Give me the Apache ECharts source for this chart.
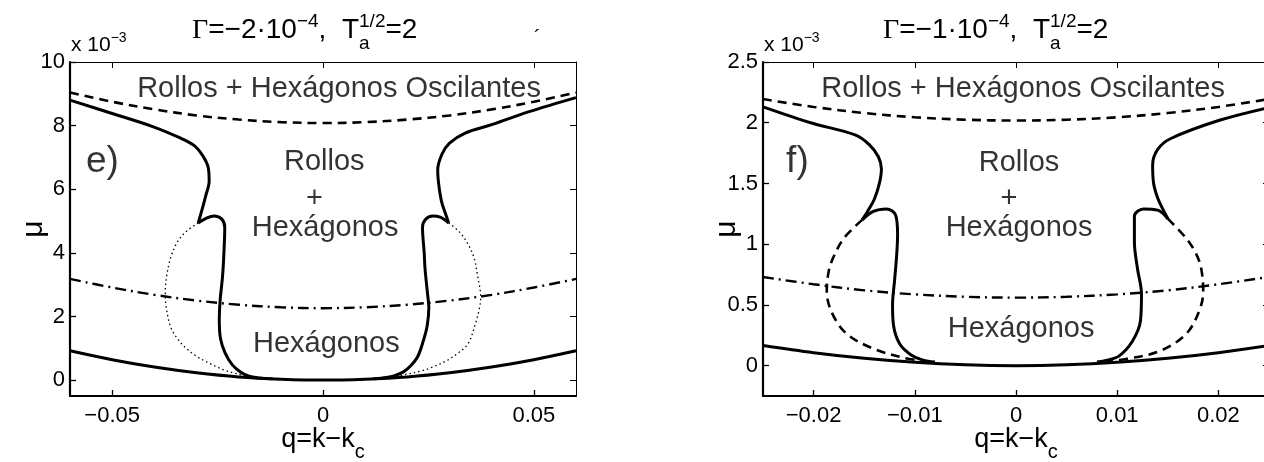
<!DOCTYPE html>
<html>
<head>
<meta charset="utf-8">
<script src="https://cdn.jsdelivr.net/npm/echarts@6/dist/echarts.min.js"></script>
<style>
  html, body { margin: 0; padding: 0; background: #fff; }
  #chart { width: 1264px; height: 462px; }
</style>
</head>
<body>
<div id="chart"></div>
<script>
// ---------- panel e)  (q, mu in units of 1e-3) ----------
const neutralE   = [[-0.06,0.92],[-0.05,0.64],[-0.04,0.41],[-0.03,0.23],[-0.02,0.10],[-0.01,0.03],[0,0],[0.01,0.03],[0.02,0.10],[0.03,0.23],[0.04,0.41],[0.05,0.64],[0.06,0.92]];
const oscE       = [[-0.06,9.04],[-0.05,8.75],[-0.04,8.51],[-0.03,8.32],[-0.02,8.19],[-0.01,8.11],[0,8.08],[0.01,8.11],[0.02,8.19],[0.03,8.32],[0.04,8.51],[0.05,8.75],[0.06,9.04]];
const dashDotE   = [[-0.06,3.18],[-0.05,2.91],[-0.04,2.68],[-0.03,2.50],[-0.02,2.37],[-0.01,2.29],[0,2.26],[0.01,2.29],[0.02,2.37],[0.03,2.50],[0.04,2.68],[0.05,2.91],[0.06,3.18]];
const leftUpE    = [[-0.06,8.80],[-0.05,8.38],[-0.0404,7.97],[-0.034,7.62],[-0.0306,7.38],[-0.0285,7.05],[-0.0272,6.67],[-0.0270,6.25],[-0.0278,5.80],[-0.0286,5.40],[-0.0296,4.94]];
const leftLowE   = [[-0.0296,4.94],[-0.0275,5.10],[-0.0258,5.16],[-0.0240,5.06],[-0.0233,4.80],[-0.0235,4.0],[-0.0238,3.3],[-0.0244,2.5],[-0.0246,1.9],[-0.0243,1.3],[-0.0232,0.85],[-0.0215,0.48],[-0.0195,0.25],[-0.0175,0.12],[-0.0150,0.07],[-0.0120,0.04]];
const rightUpE   = [[0.06,8.88],[0.0489,8.44],[0.040,8.03],[0.0336,7.76],[0.0300,7.45],[0.0282,7.10],[0.0272,6.60],[0.0274,6.20],[0.0281,5.62],[0.0290,5.25],[0.0298,4.94]];
const rightLowE  = [[0.0298,4.94],[0.0278,5.12],[0.0260,5.16],[0.0243,5.05],[0.0236,4.80],[0.0240,4.0],[0.0242,3.5],[0.0248,2.7],[0.0251,2.28],[0.0247,1.7],[0.0238,1.24],[0.0225,0.75],[0.0208,0.45],[0.0190,0.25],[0.0170,0.14],[0.0150,0.08],[0.0120,0.04]];
const bubbleLE   = [[-0.0296,4.94],[-0.0322,4.70],[-0.0344,4.37],[-0.0360,3.90],[-0.0370,3.33],[-0.0374,2.75],[-0.0372,2.30],[-0.0361,1.66],[-0.0345,1.30],[-0.0327,1.03],[-0.0300,0.75],[-0.0268,0.52],[-0.0235,0.32],[-0.0205,0.20],[-0.0175,0.10]];
const bubbleRE   = [[0.0298,4.94],[0.0324,4.65],[0.0344,4.27],[0.0358,3.85],[0.0366,3.33],[0.0374,2.60],[0.0370,2.20],[0.0362,1.80],[0.0344,1.14],[0.0320,0.85],[0.0293,0.61],[0.0262,0.42],[0.0234,0.29],[0.0200,0.19],[0.0175,0.12]];
const labelTextE = ['Rollos + Hexágonos Oscilantes', 'e)', 'Rollos', '+', 'Hexágonos', 'Hexágonos'];
const labelPosE  = [[0.0038,9.15],[-0.0523,6.85],[0.0003,6.85],[-0.002,5.68],[0.0005,4.78],[0.0008,1.12]];
const xTicksE    = [-0.05, 0, 0.05];
const yTicksE    = [0, 2, 4, 6, 8, 10];

// ---------- panel f) ----------
const neutralF   = [[-0.025,0.165],[-0.02,0.106],[-0.015,0.060],[-0.01,0.027],[-0.005,0.007],[0,0],[0.005,0.007],[0.01,0.027],[0.015,0.060],[0.02,0.106],[0.025,0.165]];
const oscF       = [[-0.025,2.195],[-0.02,2.13],[-0.015,2.08],[-0.01,2.045],[-0.005,2.025],[0,2.018],[0.005,2.025],[0.01,2.045],[0.015,2.08],[0.02,2.13],[0.025,2.195]];
const dashDotF   = [[-0.025,0.73],[-0.02,0.67],[-0.015,0.62],[-0.01,0.587],[-0.005,0.567],[0,0.56],[0.005,0.567],[0.01,0.587],[0.015,0.62],[0.02,0.67],[0.025,0.73]];
const leftUpF    = [[-0.025,2.13],[-0.0203,2.00],[-0.0159,1.90],[-0.0145,1.82],[-0.0136,1.72],[-0.0133,1.62],[-0.0135,1.50],[-0.0140,1.37],[-0.0146,1.28],[-0.0152,1.20]];
const leftLowF   = [[-0.0152,1.20],[-0.0141,1.27],[-0.0128,1.29],[-0.0119,1.24],[-0.0117,1.08],[-0.0118,0.90],[-0.0120,0.70],[-0.0122,0.50],[-0.0121,0.33],[-0.0115,0.18],[-0.0104,0.09],[-0.0092,0.045],[-0.0080,0.03]];
const rightUpF   = [[0.025,2.125],[0.0201,2.02],[0.0153,1.87],[0.0140,1.78],[0.0135,1.65],[0.0136,1.50],[0.0140,1.38],[0.0145,1.29],[0.0150,1.21]];
const rightLowF  = [[0.0150,1.21],[0.0140,1.28],[0.0126,1.29],[0.0117,1.23],[0.0117,1.02],[0.0120,0.80],[0.0124,0.59],[0.0123,0.37],[0.0115,0.20],[0.0102,0.08],[0.0090,0.045],[0.0080,0.03]];
const bubbleLF   = [[-0.0152,1.20],[-0.0170,1.05],[-0.0180,0.90],[-0.0185,0.78],[-0.0187,0.61],[-0.0181,0.42],[-0.0167,0.26],[-0.0141,0.14],[-0.0111,0.065],[-0.0090,0.035]];
const bubbleRF   = [[0.0150,1.21],[0.0168,1.05],[0.0178,0.92],[0.0183,0.80],[0.0185,0.61],[0.0181,0.45],[0.0168,0.26],[0.0142,0.12],[0.0109,0.055],[0.0090,0.035]];
const labelTextF = ['Rollos + Hexágonos Oscilantes', 'f)', 'Rollos', '+', 'Hexágonos', 'Hexágonos'];
const labelPosF  = [[0.0007,2.28],[-0.0216,1.68],[0.0003,1.67],[-0.0007,1.37],[0.0003,1.13],[0.0005,0.30]];
const xTicksF    = [-0.02, -0.01, 0, 0.01, 0.02];
const yTicksF    = [0, 0.5, 1, 1.5, 2, 2.5];

// ---------- layout ----------
const SANS = '"Liberation Sans", Arial, Helvetica, sans-serif';
const SERIF = '"Liberation Serif", "Times New Roman", serif';
const GRIDS = [
  { left: 70, top: 62, width: 506, height: 334 },
  { left: 763, top: 62, width: 506, height: 334 }
];
const RANGES = [
  { x: [-0.06, 0.06], y: [-0.5, 10] },
  { x: [-0.025, 0.025], y: [-0.25, 2.5] }
];

const fmt = v => (v < 0 ? '\u2212' + String(Math.abs(v)) : String(v));

function xAxes(g, ticks) {
  const r = RANGES[g].x;
  return [
    {
      gridIndex: g, type: 'value', position: 'bottom', min: r[0], max: r[1],
      axisLine: { onZero: false, lineStyle: { color: '#000', width: 2.2 } },
      axisTick: { inside: true, length: 6, customValues: ticks, lineStyle: { color: '#000', width: 1.3 } },
      axisLabel: { customValues: ticks, formatter: fmt, color: '#000', fontSize: 22, fontFamily: SANS, margin: 9 },
      splitLine: { show: false }
    },
    {
      gridIndex: g, type: 'value', position: 'top', min: r[0], max: r[1],
      axisLine: { onZero: false, lineStyle: { color: '#000', width: 1 } },
      axisTick: { inside: true, length: 6, customValues: ticks, lineStyle: { color: '#000', width: 1 } },
      axisLabel: { show: false }, splitLine: { show: false }
    }
  ];
}

function yAxes(g, ticks) {
  const r = RANGES[g].y;
  return [
    {
      gridIndex: g, type: 'value', position: 'left', min: r[0], max: r[1],
      axisLine: { onZero: false, lineStyle: { color: '#000', width: 2.2 } },
      axisTick: { inside: true, length: 6, customValues: ticks, lineStyle: { color: '#000', width: 1.3 } },
      axisLabel: { customValues: ticks, formatter: fmt, color: '#000', fontSize: 22, fontFamily: SANS, margin: 5 },
      splitLine: { show: false }
    },
    {
      gridIndex: g, type: 'value', position: 'right', min: r[0], max: r[1],
      axisLine: { onZero: false, lineStyle: { color: '#000', width: 1 } },
      axisTick: { inside: true, length: 6, customValues: ticks, lineStyle: { color: '#000', width: 1 } },
      axisLabel: { show: false }, splitLine: { show: false }
    }
  ];
}

const STYLES = {
  solid:   { color: '#000', width: 3, type: 'solid' },
  dashed:  { color: '#000', width: 2.6, type: [9, 6] },
  dashdot: { color: '#000', width: 2.4, type: [11, 5, 2, 5] },
  dotted:  { color: '#000', width: 1.3, type: [1.5, 3] }
};

function curve(g, data, style) {
  return {
    type: 'line', xAxisIndex: 2 * g, yAxisIndex: 2 * g, data: data,
    symbol: 'none', showSymbol: false, smooth: 0.35, silent: true, clip: true,
    lineStyle: Object.assign({}, STYLES[style]), z: 3
  };
}

function labels(g, texts, pos) {
  return {
    type: 'scatter', xAxisIndex: 2 * g, yAxisIndex: 2 * g, symbolSize: 0, silent: true, z: 5,
    data: texts.map((t, i) => ({
      value: pos[i],
      label: {
        show: true, position: 'inside', formatter: t, color: '#000', fontFamily: SANS,
        fontSize: (t.length <= 2 && t !== '+') ? 37 : 29
      }
    }))
  };
}

// math-style text laid out run by run (superscripts, subscripts)
const mctx = document.createElement('canvas').getContext('2d');
function runWidth(r) { mctx.font = r.size + 'px ' + (r.family || SANS); return mctx.measureText(r.t).width; }
function mathText(runs, x0, baseline, anchor) {
  const placed = []; let x = 0; let stacked = null;
  runs.forEach(r => {
    const w = runWidth(r);
    placed.push({ r: r, x: x });
    if (r.stack) { stacked = w; return; }
    x += stacked != null ? Math.max(stacked, w) : w;
    stacked = null;
  });
  const start = anchor === 'center' ? x0 - x / 2 : x0;
  return placed.map(p => ({
    type: 'text', silent: true, z: 10,
    x: start + p.x, y: baseline + (p.r.dy || 0) - 0.34 * p.r.size,
    style: { text: p.r.t, font: p.r.size + 'px ' + (p.r.family || SANS), fill: '#000', textAlign: 'left', textVerticalAlign: 'middle' }
  }));
}

function titleRuns(gammaText) {
  return [
    { t: '\u0393', size: 28, family: SERIF },
    { t: '=\u2212' + gammaText + '\u00b710', size: 28 },
    { t: '\u22124', size: 19, dy: -12 },
    { t: ',  T', size: 28 },
    { t: 'a', size: 19, dy: 10, stack: true },
    { t: '1/2', size: 19, dy: -12 },
    { t: '=2', size: 28 }
  ];
}
const expRuns = [ { t: 'x 10', size: 21 }, { t: '\u22123', size: 14, dy: -9 } ];
const xNameRuns = [ { t: 'q=k\u2212k', size: 27 }, { t: 'c', size: 20, dy: 10 } ];

function yName(g) {
  const G = GRIDS[g];
  return {
    type: 'text', silent: true, z: 10, x: G.left - 36, y: G.top + G.height / 2, rotation: Math.PI / 2,
    style: { text: '\u03bc', font: '30px ' + SANS, fill: '#000', textAlign: 'center', textVerticalAlign: 'middle' }
  };
}

const graphics = []
  .concat(mathText(titleRuns('2'), GRIDS[0].left + 122, 40, 'left'))
  .concat(mathText(titleRuns('1'), GRIDS[1].left + 120, 40, 'left'))
  .concat(mathText(expRuns, GRIDS[0].left + 1, 52, 'left'))
  .concat(mathText(expRuns, GRIDS[1].left + 1, 52, 'left'))
  .concat(mathText(xNameRuns, GRIDS[0].left + GRIDS[0].width / 2, 449, 'center'))
  .concat(mathText(xNameRuns, GRIDS[1].left + 253, 449, 'center'))
  .concat([yName(0), yName(1)])
  .concat(mathText([{ t: '\u00b4', size: 20 }], 534, 45, 'left'));

const chart = echarts.init(document.getElementById('chart'), null, { renderer: 'canvas' });
chart.setOption({
  animation: false,
  backgroundColor: '#fff',
  grid: GRIDS.map(g => Object.assign({ containLabel: false, outerBoundsMode: 'none' }, g)),
  xAxis: xAxes(0, xTicksE).concat(xAxes(1, xTicksF)),
  yAxis: yAxes(0, yTicksE).concat(yAxes(1, yTicksF)),
  series: [
    curve(0, neutralE, 'solid'), curve(0, oscE, 'dashed'), curve(0, dashDotE, 'dashdot'),
    curve(0, leftUpE, 'solid'), curve(0, leftLowE, 'solid'), curve(0, rightUpE, 'solid'), curve(0, rightLowE, 'solid'),
    curve(0, bubbleLE, 'dotted'), curve(0, bubbleRE, 'dotted'),
    labels(0, labelTextE, labelPosE),
    curve(1, neutralF, 'solid'), curve(1, oscF, 'dashed'), curve(1, dashDotF, 'dashdot'),
    curve(1, leftUpF, 'solid'), curve(1, leftLowF, 'solid'), curve(1, rightUpF, 'solid'), curve(1, rightLowF, 'solid'),
    curve(1, bubbleLF, 'dashed'), curve(1, bubbleRF, 'dashed'),
    labels(1, labelTextF, labelPosF)
  ],
  graphic: graphics
});
</script>
</body>
</html>
